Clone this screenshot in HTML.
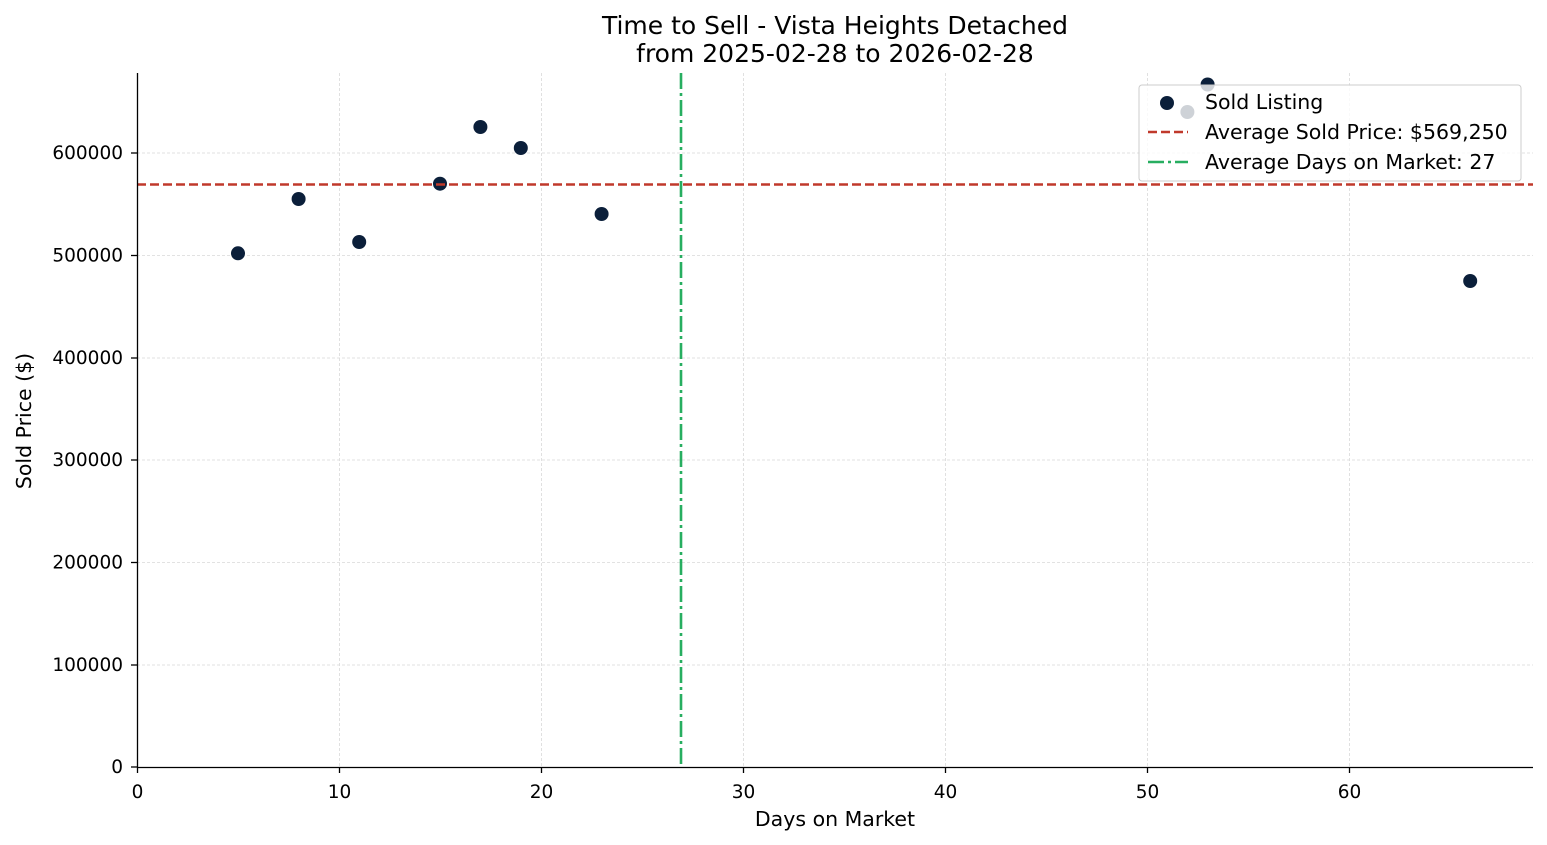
<!DOCTYPE html>
<html><head><meta charset="utf-8"><style>
html,body{margin:0;padding:0;background:#fff}
svg{display:block;font-family:"DejaVu Sans","Liberation Sans",sans-serif}
</style></head><body>
<svg width="1547" height="845" xmlns="http://www.w3.org/2000/svg">
<rect width="1547" height="845" fill="#fff"/>
<g stroke="#d9d9d9" stroke-width="0.8" stroke-dasharray="3,2">
<line x1="339.5" y1="73" x2="339.5" y2="767"/>
<line x1="541.5" y1="73" x2="541.5" y2="767"/>
<line x1="743.5" y1="73" x2="743.5" y2="767"/>
<line x1="945.5" y1="73" x2="945.5" y2="767"/>
<line x1="1147.5" y1="73" x2="1147.5" y2="767"/>
<line x1="1349.5" y1="73" x2="1349.5" y2="767"/>
<line x1="137" y1="665" x2="1533" y2="665"/>
<line x1="137" y1="562.5" x2="1533" y2="562.5"/>
<line x1="137" y1="460" x2="1533" y2="460"/>
<line x1="137" y1="358" x2="1533" y2="358"/>
<line x1="137" y1="255.5" x2="1533" y2="255.5"/>
<line x1="137" y1="153" x2="1533" y2="153"/>
</g>
<g fill="#0b1f3a">
<circle cx="238" cy="253.3" r="7"/>
<circle cx="298.6" cy="199" r="7"/>
<circle cx="359.2" cy="242" r="7"/>
<circle cx="440" cy="183.7" r="7"/>
<circle cx="480.4" cy="127" r="7"/>
<circle cx="520.8" cy="148" r="7"/>
<circle cx="601.6" cy="214" r="7"/>
<circle cx="1187.4" cy="112" r="7"/>
<circle cx="1207.6" cy="84.5" r="7"/>
<circle cx="1470.2" cy="281" r="7"/>
</g>
<line x1="137" y1="184.5" x2="1533" y2="184.5" stroke="#c0392b" stroke-width="2.6" stroke-dasharray="9,4"/>
<line x1="681" y1="73" x2="681" y2="767" stroke="#27ae60" stroke-width="2.6" stroke-dasharray="16,4,3,4"/>
<rect x="1139" y="85" width="382" height="96" rx="3" fill="#fff" fill-opacity="0.8" stroke="#ccc" stroke-width="1"/>
<circle cx="1167" cy="103" r="7" fill="#0b1f3a"/>
<line x1="1148" y1="132" x2="1188" y2="132" stroke="#c0392b" stroke-width="2.6" stroke-dasharray="9,4"/>
<line x1="1148" y1="162" x2="1188" y2="162" stroke="#27ae60" stroke-width="2.6" stroke-dasharray="16,4,3,4"/>
<g font-size="20.5" fill="#000">
<text x="1205" y="109">Sold Listing</text>
<text x="1205" y="139">Average Sold Price: $569,250</text>
<text x="1205" y="169">Average Days on Market: 27</text>
</g>
<g stroke="#000" stroke-width="1.3">
<line x1="137.5" y1="73" x2="137.5" y2="767.5"/>
<line x1="137" y1="767.5" x2="1533" y2="767.5"/>
<line x1="137.5" y1="767" x2="137.5" y2="773"/>
<line x1="339.5" y1="767" x2="339.5" y2="773"/>
<line x1="541.5" y1="767" x2="541.5" y2="773"/>
<line x1="743.5" y1="767" x2="743.5" y2="773"/>
<line x1="945.5" y1="767" x2="945.5" y2="773"/>
<line x1="1147.5" y1="767" x2="1147.5" y2="773"/>
<line x1="1349.5" y1="767" x2="1349.5" y2="773"/>
<line x1="131" y1="767" x2="137" y2="767"/>
<line x1="131" y1="665" x2="137" y2="665"/>
<line x1="131" y1="562.5" x2="137" y2="562.5"/>
<line x1="131" y1="460" x2="137" y2="460"/>
<line x1="131" y1="358" x2="137" y2="358"/>
<line x1="131" y1="255.5" x2="137" y2="255.5"/>
<line x1="131" y1="153" x2="137" y2="153"/>
</g>
<g font-size="18.5" fill="#000" text-anchor="middle">
<text x="137.5" y="798">0</text>
<text x="339.5" y="798">10</text>
<text x="541.5" y="798">20</text>
<text x="743.5" y="798">30</text>
<text x="945.5" y="798">40</text>
<text x="1147.5" y="798">50</text>
<text x="1349.5" y="798">60</text>
</g>
<text x="835" y="826" font-size="20.5" text-anchor="middle">Days on Market</text>
<g font-size="18.5" fill="#000" text-anchor="end">
<text x="123" y="773">0</text>
<text x="123" y="671">100000</text>
<text x="123" y="568.5">200000</text>
<text x="123" y="466">300000</text>
<text x="123" y="364">400000</text>
<text x="123" y="261.5">500000</text>
<text x="123" y="159">600000</text>
</g>
<text transform="translate(31,421) rotate(-90)" font-size="20.5" text-anchor="middle">Sold Price ($)</text>
<g font-size="25" text-anchor="middle" fill="#000">
<text x="835" y="34">Time to Sell - Vista Heights Detached</text>
<text x="835" y="62">from 2025-02-28 to 2026-02-28</text>
</g>
</svg>
</body></html>
